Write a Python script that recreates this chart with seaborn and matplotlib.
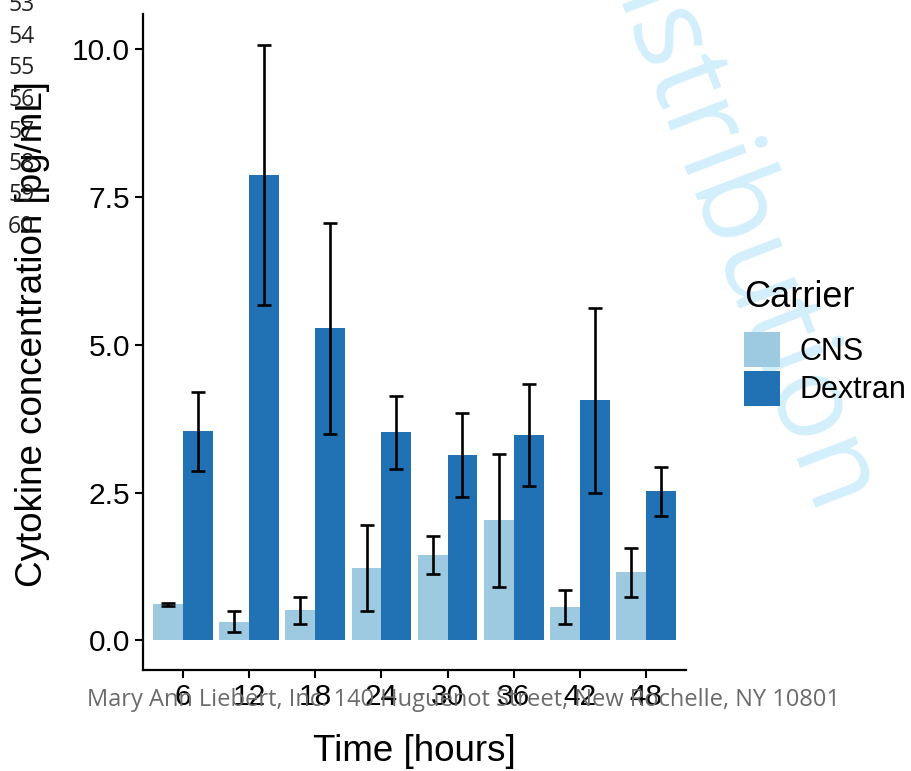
import matplotlib
matplotlib.use("Agg")
import matplotlib.pyplot as plt
import seaborn as sns
import pandas as pd

hours = ["6", "12", "18", "24", "30", "36", "42", "48"]
carriers = ["CNS", "Dextran"]
cns_mean = [0.61, 0.32, 0.51, 1.22, 1.44, 2.03, 0.56, 1.15]
cns_err = [0.02, 0.18, 0.23, 0.73, 0.32, 1.13, 0.29, 0.42]
dex_mean = [3.54, 7.87, 5.28, 3.52, 3.13, 3.47, 4.06, 2.52]
dex_err = [0.67, 2.20, 1.79, 0.62, 0.71, 0.86, 1.56, 0.42]
colors = ["#9ecae1", "#2171b5"]
line_numbers = ["53", "54", "55", "56", "57", "58", "59", "60"]

df = pd.DataFrame({
    "Time": hours * 2,
    "Carrier": ["CNS"] * len(hours) + ["Dextran"] * len(hours),
    "value": cns_mean + dex_mean,
    "err": cns_err + dex_err,
})

sns.set_style("white")
plt.rcParams["font.family"] = ["Liberation Sans", "DejaVu Sans"]
plt.rcParams["text.color"] = "black"
plt.rcParams["axes.labelcolor"] = "black"
plt.rcParams["xtick.color"] = "black"
plt.rcParams["ytick.color"] = "black"

fig = plt.figure(figsize=(9.12, 7.71), dpi=100)
ax = fig.add_axes([0.157, 0.131, 0.595, 0.851])
ax.patch.set_visible(False)

sns.barplot(data=df, x="Time", y="value", hue="Carrier", order=hours,
            hue_order=carriers, palette=colors, width=0.9, gap=0,
            errorbar=None, saturation=1, linewidth=0, ax=ax)

# error bars at bar centres
for cont, carrier in zip(ax.containers, carriers):
    sub = df[df["Carrier"] == carrier]
    xs = [p.get_x() + p.get_width() / 2 for p in cont.patches]
    ax.errorbar(xs, sub["value"], yerr=sub["err"], fmt="none",
                ecolor="black", elinewidth=1.9, capsize=4.7, capthick=1.9,
                zorder=5)

ax.set_xlim(-0.6, 7.6)
ax.set_ylim(-0.5, 10.6)
ax.set_yticks([0, 2.5, 5, 7.5, 10])
ax.set_yticklabels(["0.0", "2.5", "5.0", "7.5", "10.0"])
ax.tick_params(axis="both", labelsize=21.5, length=6, width=1.5,
               color="black", labelcolor="black", direction="out",
               bottom=True, left=True)
for side in ["top", "right"]:
    ax.spines[side].set_visible(False)
for side in ["left", "bottom"]:
    ax.spines[side].set_linewidth(1.6)
    ax.spines[side].set_color("black")

ax.set_xlabel("Time [hours]", fontsize=26.5)
ax.set_ylabel("Cytokine concentration [pg/mL]", fontsize=26.5)
ax.xaxis.set_label_coords(0.5, -0.097)
ax.yaxis.set_label_coords(-0.171, 0.512)

leg = ax.legend(title="Carrier", loc="upper left", bbox_to_anchor=(1.107, 0.594),
                frameon=False, fontsize=22, title_fontsize=26,
                handlelength=1.17, handleheight=1.38, labelspacing=0.13,
                handletextpad=0.65, borderpad=0, borderaxespad=0,
                alignment="left")
leg._legend_box.sep = 12  # more room under the title, like the reference

# watermark (behind the axes), line numbers, footer
fig.text(0.812, 0.672, "istribution", rotation=-69, fontsize=84,
         color="#d3effb", ha="center", va="center", rotation_mode="anchor",
         family=["Open Sans", "DejaVu Sans"], zorder=-1)
for i, num in enumerate(line_numbers):
    fig.text(0.009, 1 - (5 + i * 31.7) / 771, num, fontsize=16.5,
             color="#222222", ha="left", va="center",
             family=["Open Sans", "DejaVu Sans"])
fig.text(0.508, 1 - 700 / 771, "Mary Ann Liebert, Inc. 140 Huguenot Street, New Rochelle, NY 10801",
         fontsize=17, color="#6b6b6b", ha="center", va="center",
         family=["Open Sans", "DejaVu Sans"], zorder=10)

fig.savefig("out.png", dpi=100)
